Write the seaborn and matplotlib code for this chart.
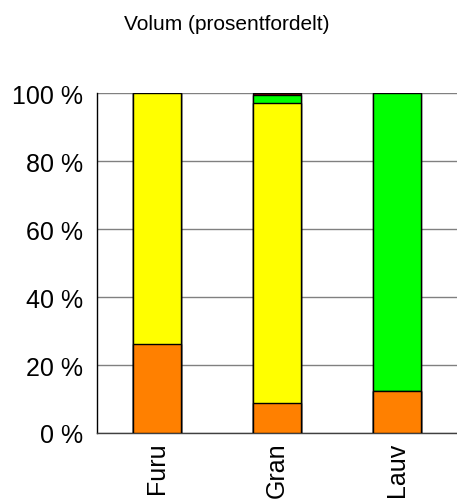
import matplotlib
matplotlib.use("Agg")
import matplotlib.pyplot as plt
import seaborn as sns
import pandas as pd
import numpy as np

categories = ["Furu", "Gran", "Lauv"]
s_orange = [26.2, 8.8, 12.4]
s_yellow = [73.8, 88.4, 0.0]
s_green = [0.0, 2.3, 87.6]
s_red = [0.0, 0.5, 0.0]
yticks = [0, 20, 40, 60, 80, 100]
ytick_labels = ["0 %", "20 %", "40 %", "60 %", "80 %", "100 %"]
title = "Volum (prosentfordelt)"

series = [("a", s_orange, "#FF8000"), ("b", s_yellow, "#FFFF00"),
          ("c", s_green, "#00FF00"), ("d", s_red, "#800000")]

sns.set_theme(style="white")
plt.rcParams['font.family'] = ['Liberation Sans', 'DejaVu Sans']
plt.rcParams['text.color'] = 'black'
plt.rcParams['xtick.color'] = 'black'
plt.rcParams['ytick.color'] = 'black'

fig = plt.figure(figsize=(4.57, 5.02), dpi=100)
ax = fig.add_axes([97/457, 68/502, 360/457, 340/502])

cum = np.zeros(len(categories))
tops = []
for name, vals, col in series:
    cum = cum + np.array(vals)
    tops.append((cum.copy(), col))

for top, col in reversed(tops):
    df = pd.DataFrame({"cat": categories, "val": top})
    sns.barplot(data=df, x="cat", y="val", color=col, saturation=1, width=0.4,
                edgecolor="black", linewidth=1.0, ax=ax, zorder=3)

ax.set_xlim(-0.5, 2.5)
ax.set_ylim(0, 100)
ax.set_yticks(yticks)
ax.set_yticklabels(ytick_labels, fontsize=18, color="black")
ax.yaxis.grid(True, color="#808080", linewidth=1.0, zorder=0)
ax.set_axisbelow(True)
ax.set_xlabel("")
ax.set_ylabel("")
ax.set_xticks(range(len(categories)))
ax.set_xticklabels(categories, rotation=90, fontsize=18, va="top", color="black")
ax.set_xticks([0.5, 1.5], minor=True)
ax.tick_params(axis="x", which="major", length=0, pad=6)
ax.tick_params(axis="x", which="minor", length=8.6, width=1, color="black", direction="out")
ax.tick_params(axis="y", which="major", length=8.6, width=1, color="#808080", direction="out", pad=1.4)
for s in ["top", "right"]:
    ax.spines[s].set_visible(False)
ax.spines["left"].set_color("black")
ax.spines["left"].set_linewidth(1.0)
ax.spines["bottom"].set_color("#404040")
ax.spines["bottom"].set_linewidth(1.0)

fig.text(227/457, 1 - 25/502, title, ha="center", va="center", fontsize=15, color="black")

fig.savefig("out.png", dpi=100)
